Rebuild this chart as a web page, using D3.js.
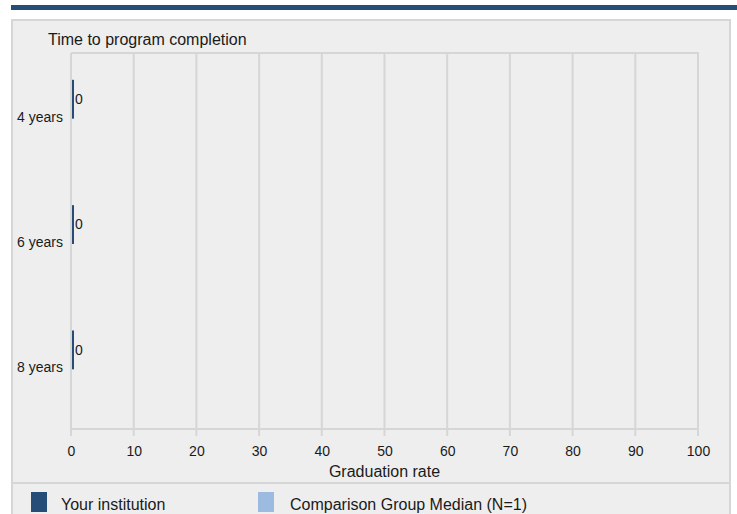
<!DOCTYPE html>
<html><head><meta charset="utf-8">
<script src="https://cdn.jsdelivr.net/npm/d3@7"></script>
<style>
html,body{margin:0;padding:0;background:#fff;}
svg text{font-family:"Liberation Sans",Arial,sans-serif;fill:#1a1a1a;}
</style></head>
<body><svg id="c" width="737" height="514"></svg>
<script>
const categories = ["4 years", "6 years", "8 years"];
const yourInstitution = [0, 0, 0];
const comparisonMedian = [null, null, null];
const xTicks = [0, 10, 20, 30, 40, 50, 60, 70, 80, 90, 100];
const seriesNames = ["Your institution", "Comparison Group Median (N=1)"];
const seriesColors = ["#264d78", "#9dbbe0"];

const svg = d3.select("#c");
const W = 737, H = 514;
const FONT = '"Liberation Sans",Arial,sans-serif';

// header bar
svg.append("rect").attr("x", 11).attr("y", 5).attr("width", W - 11).attr("height", 5).attr("fill", "#264d78");
// panel
svg.append("rect").attr("x", 12).attr("y", 20).attr("width", 718).attr("height", 510)
  .attr("fill", "#eeeeee").attr("stroke", "#d6d6d6").attr("stroke-width", 2);
// separator
svg.append("line").attr("x1", 12).attr("x2", 730).attr("y1", 483).attr("y2", 483)
  .attr("stroke", "#d6d6d6").attr("stroke-width", 2);

const plotL = 71, plotR = 698, plotT = 53, plotB = 429;
const x = d3.scaleLinear().domain([0, 100]).range([plotL, plotR]);

// gridlines
svg.append("g").selectAll("line").data(xTicks).join("line")
  .attr("x1", d => x(d)).attr("x2", d => x(d)).attr("y1", plotT).attr("y2", plotB + 7)
  .attr("stroke", "#d6d6d6").attr("stroke-width", 2);
// top frame and bottom axis line
svg.append("line").attr("x1", plotL).attr("x2", plotR + 1).attr("y1", plotT).attr("y2", plotT)
  .attr("stroke", "#d6d6d6").attr("stroke-width", 2);
svg.append("line").attr("x1", plotL).attr("x2", plotR + 1).attr("y1", plotB).attr("y2", plotB)
  .attr("stroke", "#d6d6d6").attr("stroke-width", 2);

// tick labels
const xAxis = d3.axisBottom(x).tickValues(xTicks).tickSize(0).tickPadding(0);
const ax = svg.append("g").attr("transform", `translate(0,${plotB + 17})`).call(xAxis);
ax.select(".domain").remove();
ax.selectAll("text").attr("font-size", 14).attr("dy", "0.71em").attr("fill", "#1a1a1a")
  .style("font-family", FONT);

svg.append("text").attr("x", (plotL + plotR) / 2).attr("y", 477).attr("text-anchor", "middle")
  .attr("font-size", 16).text("Graduation rate");

svg.append("text").attr("x", 48).attr("y", 45).attr("font-size", 16).text("Time to program completion");

// bands
const y0 = d3.scaleBand().domain(categories).range([plotT + 3, plotB + 3]).paddingInner(0.38).paddingOuter(0.19);
const y1 = d3.scaleBand().domain(seriesNames).range([0, y0.bandwidth()]);

const yAxis = d3.axisLeft(y0).tickSize(0).tickPadding(8);
const ay = svg.append("g").attr("transform", `translate(${plotL},0)`).call(yAxis);
ay.select(".domain").remove();
ay.selectAll(".tick").attr("transform", d => `translate(0,${y0(d) + y0.bandwidth() / 2 - 1.5})`);
ay.selectAll("text").attr("font-size", 14).attr("fill", "#1a1a1a")
  .style("font-family", FONT);

const rows = categories.map((c, i) => ({ c, vals: [yourInstitution[i], comparisonMedian[i]] }));
const g = svg.append("g").selectAll("g").data(rows).join("g")
  .attr("transform", d => `translate(0,${y0(d.c)})`);
g.each(function (d) {
  const sel = d3.select(this);
  d.vals.forEach((v, k) => {
    if (v === null || v === undefined) return;
    const w = Math.max(2, x(v) - x(0));
    sel.append("rect").attr("x", x(0) + 1).attr("y", y1(seriesNames[k]))
      .attr("width", w).attr("height", y1.bandwidth()).attr("fill", seriesColors[k]);
    sel.append("text").attr("x", x(0) + 1 + w + 1).attr("y", y1(seriesNames[k]) + y1.bandwidth() / 2)
      .attr("dy", "0.35em").attr("font-size", 14).text(v);
  });
});

// legend
const lx = [31, 258], tx = [61, 290];
seriesNames.forEach((s, i) => {
  svg.append("rect").attr("x", lx[i]).attr("y", 492).attr("width", 16).attr("height", 20).attr("fill", seriesColors[i]);
  svg.append("text").attr("x", tx[i]).attr("y", 510).attr("font-size", 16).text(s);
});
</script></body></html>
